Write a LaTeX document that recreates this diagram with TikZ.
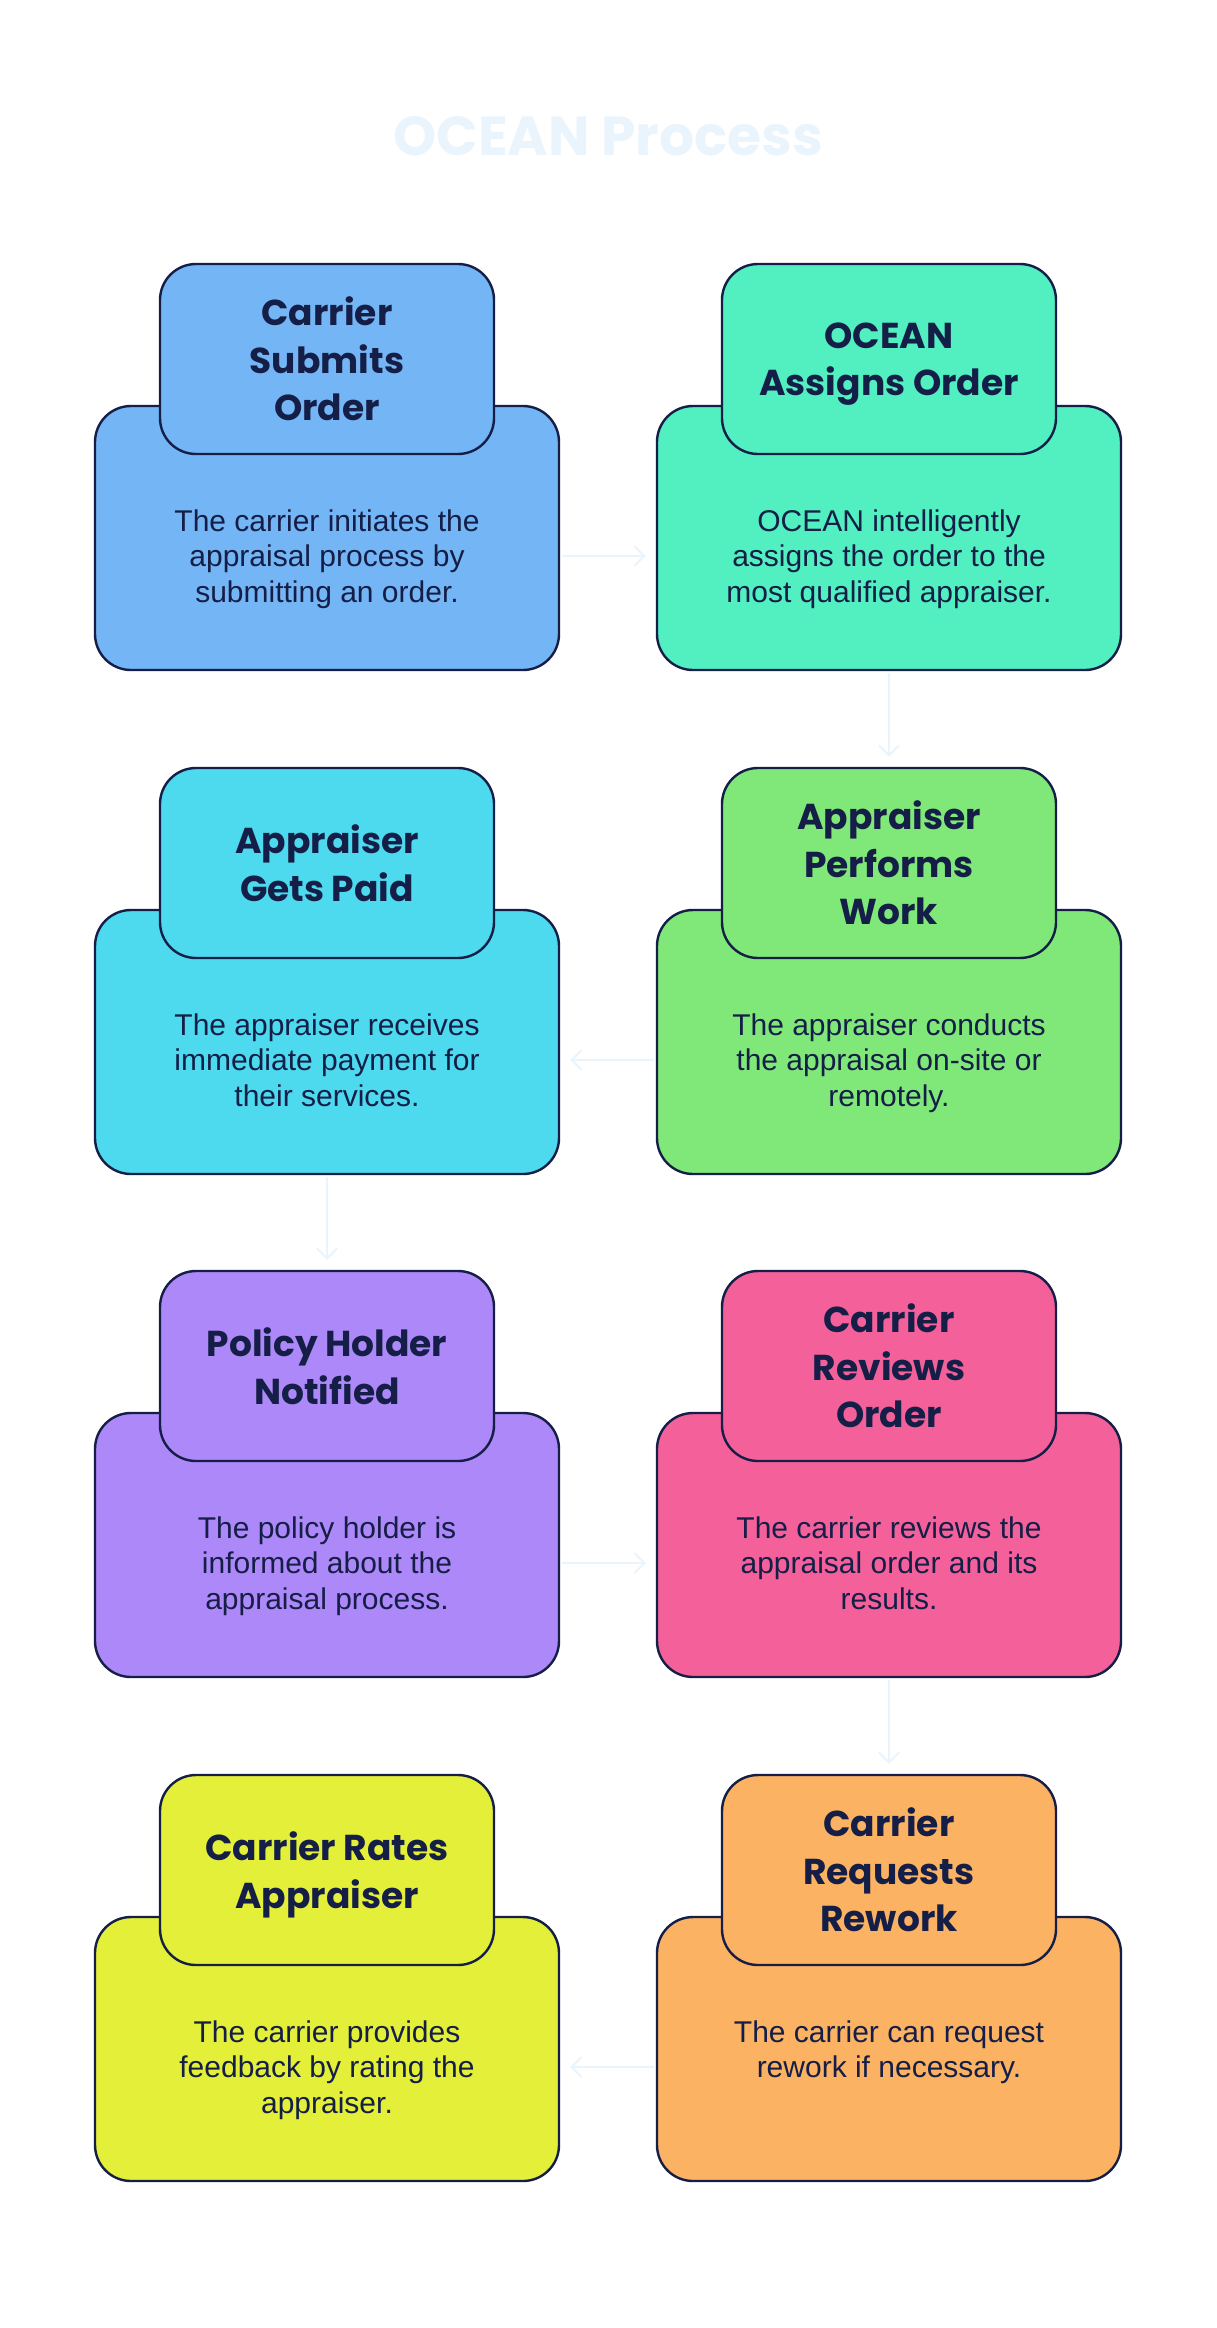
\documentclass[tikz,border=0pt]{standalone}
\usepackage{fontspec}
\setmainfont{Liberation Sans}
\newfontfamily\headfont{Poppins}
\usetikzlibrary{arrows.meta}
\definecolor{ink}{HTML}{141E46}
\definecolor{faint}{HTML}{EAF4FC}
\definecolor{cblue}{HTML}{74B5F5}
\definecolor{cteal}{HTML}{52EFC0}
\definecolor{ccyan}{HTML}{4DD9EE}
\definecolor{cgreen}{HTML}{80E878}
\definecolor{cviolet}{HTML}{AD88F8}
\definecolor{cpink}{HTML}{F4619A}
\definecolor{cyellow}{HTML}{E3EF38}
\definecolor{corange}{HTML}{FBB262}
\begin{document}
\begin{tikzpicture}[x=0.5pt,y=-0.5pt,
  body/.style={draw=ink,line width=1.2pt,rounded corners=18pt,minimum width=232pt,minimum height=132pt},
  head/.style={draw=ink,line width=1.2pt,rounded corners=18pt,minimum width=167pt,minimum height=95pt,
    text=ink,align=center,text depth=-7pt,font=\headfont\bfseries\fontsize{18}{23.75}\selectfont},
  desc/.style={anchor=north,inner sep=0pt,text=ink,align=center,font=\fontsize{15}{17.8}\selectfont},
  flow/.style={faint,line width=1pt,shorten <=1pt,shorten >=5pt,-{Straight Barb[length=5pt,width=10pt]}}]
\useasboundingbox (0,0) rectangle (1216,2328);
\node[text=faint,font=\headfont\bfseries\fontsize{27.5}{33}\selectfont] (title) at (608,136) {OCEAN Process};

\node[body,fill=cblue] (b1) at (327,538) {};
\node[head,fill=cblue] (h1) at (327,359) {Carrier\\Submits\\Order};
\node[desc] (t1) at (327,509) {The carrier initiates the\\appraisal process by\\submitting an order.};

\node[body,fill=cteal] (b2) at (889,538) {};
\node[head,fill=cteal] (h2) at (889,359) {OCEAN\\Assigns Order};
\node[desc] (t2) at (889,509) {OCEAN intelligently\\assigns the order to the\\most qualified appraiser.};

\node[body,fill=cgreen] (b3) at (889,1042) {};
\node[head,fill=cgreen] (h3) at (889,863) {Appraiser\\Performs\\Work};
\node[desc] (t3) at (889,1013) {The appraiser conducts\\the appraisal on-site or\\remotely.};

\node[body,fill=ccyan] (b4) at (327,1042) {};
\node[head,fill=ccyan] (h4) at (327,863) {Appraiser\\Gets Paid};
\node[desc] (t4) at (327,1013) {The appraiser receives\\immediate payment for\\their services.};

\node[body,fill=cviolet] (b5) at (327,1545) {};
\node[head,fill=cviolet] (h5) at (327,1366) {Policy Holder\\Notified};
\node[desc] (t5) at (327,1516) {The policy holder is\\informed about the\\appraisal process.};

\node[body,fill=cpink] (b6) at (889,1545) {};
\node[head,fill=cpink] (h6) at (889,1366) {Carrier\\Reviews\\Order};
\node[desc] (t6) at (889,1516) {The carrier reviews the\\appraisal order and its\\results.};

\node[body,fill=corange] (b7) at (889,2049) {};
\node[head,fill=corange] (h7) at (889,1870) {Carrier\\Requests\\Rework};
\node[desc] (t7) at (889,2020) {The carrier can request\\rework if necessary.};

\node[body,fill=cyellow] (b8) at (327,2049) {};
\node[head,fill=cyellow] (h8) at (327,1870) {Carrier Rates\\Appraiser};
\node[desc] (t8) at (327,2020) {The carrier provides\\feedback by rating the\\appraiser.};

\draw[flow] ([yshift=-9pt]b1.east) -- ([yshift=-9pt]b2.west);
\draw[flow] (b2.south) -- (h3.north);
\draw[flow] ([yshift=-9pt]b3.west) -- ([yshift=-9pt]b4.east);
\draw[flow] (b4.south) -- (h5.north);
\draw[flow] ([yshift=-9pt]b5.east) -- ([yshift=-9pt]b6.west);
\draw[flow] (b6.south) -- (h7.north);
\draw[flow] ([yshift=-9pt]b7.west) -- ([yshift=-9pt]b8.east);
\end{tikzpicture}
\end{document}
